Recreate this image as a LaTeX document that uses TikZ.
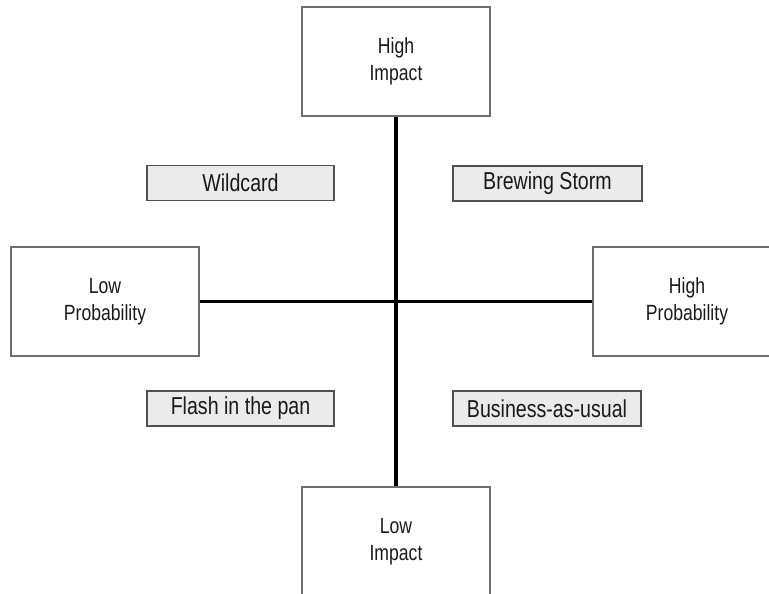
\documentclass[tikz,border=0pt]{standalone}
\usepackage{fontspec}
\setmainfont{Liberation Sans}[FakeStretch=0.8]
\definecolor{boxline}{HTML}{6E6E6E}
\definecolor{labline}{HTML}{505050}
\definecolor{labfill}{HTML}{EBEBEB}
\definecolor{txt}{HTML}{1A1A1A}
\begin{document}
\begin{tikzpicture}[x=1pt,y=-1pt,
  axisbox/.style={draw=boxline, line width=1.5pt, fill=white, minimum width=188pt, minimum height=109pt,
    inner sep=0pt, align=center, text=txt, font=\fontsize{22}{27}\selectfont},
  quadlabel/.style={draw=labline, line width=1.2pt, fill=labfill, minimum height=35pt,
    inner sep=0pt, text=txt, font=\fontsize{24.5}{27}\selectfont},
  axisline/.style={line width=3.5pt, black}]
\useasboundingbox (0,0) rectangle (769,594);
\clip (0,0) rectangle (769,594);
\node[axisbox] (top) at (396,61.5) {High\\Impact};
\node[axisbox] (bot) at (396,541.5) {Low\\Impact};
\node[axisbox] (left) at (105,301.5) {Low\\Probability};
\node[axisbox] (right) at (687,301.5) {High\\Probability};
\draw[axisline] (top.south) -- (bot.north);
\draw[axisline] (left.east) -- (right.west);
\node[quadlabel, minimum width=187pt] (wild) at (240.5,183) {Wildcard};
\node[quadlabel, minimum width=189pt] (brew) at (547.5,183.5) {Brewing Storm};
\node[quadlabel, minimum width=187pt] (flash) at (240.5,408.5) {Flash in the pan};
\node[quadlabel, minimum width=188pt] (bau) at (547,408.5) {Business-as-usual};
\end{tikzpicture}
\end{document}
